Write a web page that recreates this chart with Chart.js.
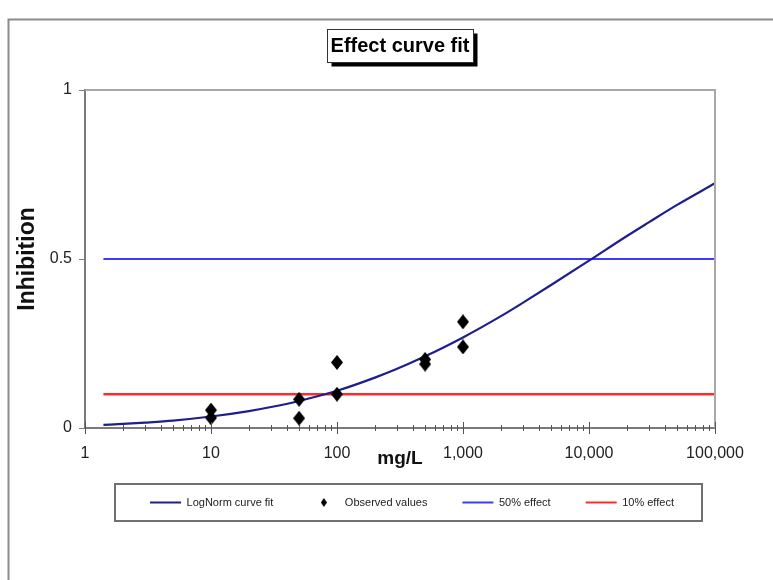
<!DOCTYPE html>
<html><head><meta charset="utf-8">
<script src="https://cdn.jsdelivr.net/npm/chart.js@4.4.1/dist/chart.umd.min.js"></script>
<style>html,body{margin:0;padding:0;background:#fff;} canvas{display:block;}</style>
</head><body>
<canvas id="c" width="773" height="580"></canvas>
<script>
// ---- data ----
const seriesNames = ['LogNorm curve fit', 'Observed values', '50% effect', '10% effect'];
const obsConc = [10, 10, 50, 50, 100, 100, 500, 500, 1000, 1000];
const obsInhibition = [0.053, 0.030, 0.085, 0.029, 0.194, 0.100, 0.203, 0.189, 0.314, 0.240];
const curveConc = [1.4, 2, 3, 5, 10, 20, 30, 50, 100, 200, 300, 500, 1000, 2000, 3000, 5000, 10000, 20000, 30000, 50000, 100000];
const curveInhibition = [0.009, 0.012, 0.016, 0.022, 0.034, 0.050, 0.062, 0.080, 0.110, 0.149, 0.175, 0.212, 0.268, 0.331, 0.371, 0.423, 0.495, 0.568, 0.609, 0.660, 0.724];
const refLineConc = [1.4, 100000];
const effect50 = [0.5, 0.5];
const effect10 = [0.1, 0.1];
const xTickValues = [1, 10, 100, 1000, 10000, 100000];
const yTickValues = [0, 0.5, 1];
const titleText = 'Effect curve fit';
const xTitle = 'mg/L';
const yTitle = 'Inhibition';

const FONT = '"Liberation Sans", Arial, sans-serif';
Chart.defaults.font.family = FONT;
Chart.defaults.color = '#222';

function diamond(w, h) {
  const c = document.createElement('canvas');
  c.width = w; c.height = h;
  const g = c.getContext('2d');
  g.fillStyle = '#000';
  g.beginPath();
  g.moveTo(w / 2, 0); g.lineTo(w, h / 2); g.lineTo(w / 2, h); g.lineTo(0, h / 2);
  g.closePath(); g.fill();
  return c;
}
const pointDiamond = diamond(12, 15);
const legendDiamond = diamond(6, 9);

const zip = (xs, ys) => xs.map((x, i) => ({x: x, y: ys[i]}));

const decor = {
  id: 'decor',
  afterLayout(chart) {
    const lg = chart.legend;
    lg.left += 12; lg.right += 12;
  },
  beforeDraw(chart) {
    const ctx = chart.ctx;
    ctx.save();
    // outer frame
    ctx.strokeStyle = '#8c8c8c'; ctx.lineWidth = 2;
    ctx.beginPath(); ctx.moveTo(8.5, 580); ctx.lineTo(8.5, 19.5); ctx.lineTo(773, 19.5); ctx.stroke();
    // title box with shadow
    const tb = chart.titleBlock;
    ctx.font = 'bold 20px ' + FONT;
    const w = ctx.measureText(titleText).width;
    const cx = (tb.left + tb.right) / 2;
    const cy = tb.top + 34 + 12;
    const x0 = Math.round(cx - w / 2 - 4) + 0.5, x1 = Math.round(cx + w / 2 + 4) + 0.5;
    const y0 = Math.round(cy - 17.5) + 0.5, y1 = Math.round(cy + 15.5) + 0.5;
    ctx.fillStyle = '#000';
    ctx.fillRect(x0 + 4, y0 + 4, x1 - x0, y1 - y0);
    ctx.fillStyle = '#fff';
    ctx.fillRect(x0, y0, x1 - x0, y1 - y0);
    ctx.strokeStyle = '#333'; ctx.lineWidth = 1;
    ctx.strokeRect(x0, y0, x1 - x0, y1 - y0);
    ctx.restore();
  },
  afterDraw(chart) {
    const ctx = chart.ctx;
    const a = chart.chartArea;
    ctx.save();
    // plot border top & right
    ctx.strokeStyle = '#a8a8a8'; ctx.lineWidth = 2;
    ctx.beginPath(); ctx.moveTo(a.left, a.top); ctx.lineTo(a.right, a.top); ctx.lineTo(a.right, a.bottom); ctx.stroke();
    // log tick marks crossing the x axis
    const xs = chart.scales.x;
    ctx.strokeStyle = '#555'; ctx.lineWidth = 1;
    ctx.beginPath();
    for (let e = 0; e <= 5; e++) {
      for (let m = 1; m <= 9; m++) {
        const v = m * Math.pow(10, e);
        if (v > xs.max) break;
        const px = Math.round(xs.getPixelForValue(v)) + 0.5;
        const len = m === 1 ? 6 : 3;
        ctx.moveTo(px, a.bottom - len); ctx.lineTo(px, a.bottom + len);
      }
    }
    ctx.stroke();
    // legend frame
    const lg = chart.legend;
    const pad = lg.options.labels.padding;
    const span = lg.lineWidths[0] - pad;
    const lcx = (lg.left + lg.right) / 2;
    const start = lcx - span / 2;
    const ly = lg.top + pad + 5.5;
    ctx.strokeStyle = '#707070'; ctx.lineWidth = 2;
    ctx.strokeRect(Math.round(start - 35), Math.round(ly - 18.5), Math.round(span + 63), 37);
    ctx.restore();
  }
};

new Chart(document.getElementById('c'), {
  type: 'scatter',
  data: {
    datasets: [
      {label: seriesNames[0], data: zip(curveConc, curveInhibition), showLine: true, borderColor: '#1e1e8c', borderWidth: 2.2, pointRadius: 0, cubicInterpolationMode: 'monotone', order: 1},
      {label: seriesNames[1], data: zip(obsConc, obsInhibition), showLine: false, pointStyle: pointDiamond, backgroundColor: '#000', borderColor: '#000', order: 0},
      {label: seriesNames[2], data: zip(refLineConc, effect50), showLine: true, borderColor: '#3c3cff', borderWidth: 2, pointRadius: 0, order: 2},
      {label: seriesNames[3], data: zip(refLineConc, effect10), showLine: true, borderColor: '#ff2a2a', borderWidth: 2.5, pointRadius: 0, order: 3}
    ]
  },
  options: {
    responsive: false,
    animation: false,
    layout: {padding: {left: 0, right: 58, top: 0, bottom: 62}},
    plugins: {
      tooltip: {enabled: false},
      title: {
        display: true, text: titleText, fullSize: false, color: '#000',
        font: {size: 20, weight: 'bold', lineHeight: 1.2},
        padding: {top: 34, bottom: 32}
      },
      legend: {
        display: true, position: 'bottom', fullSize: false,
        labels: {
          usePointStyle: true, pointStyleWidth: 31, boxHeight: 8, padding: 35,
          color: '#222', font: {size: 11},
          generateLabels(chart) {
            return chart.data.datasets.map((ds, i) => ({
              text: ds.label,
              fillStyle: ds.borderColor,
              strokeStyle: ds.borderColor,
              lineWidth: 2,
              pointStyle: i === 1 ? legendDiamond : 'line',
              hidden: false,
              datasetIndex: i,
              fontColor: '#222'
            }));
          }
        }
      }
    },
    scales: {
      x: {
        type: 'logarithmic', min: 1, max: 100000,
        afterBuildTicks(s) { s.ticks = xTickValues.map(v => ({value: v})); },
        afterFit(s) { s.height = 34; },
        ticks: {
          autoSkip: false, maxRotation: 0, padding: 16, color: '#222',
          font: {size: 16},
          callback: (v) => Number(v).toLocaleString('en-US')
        },
        grid: {display: false, drawTicks: false},
        border: {display: true, color: '#7a7a7a', width: 2},
        title: {display: true, text: xTitle, color: '#111', font: {size: 19, weight: 'bold', lineHeight: 1.2}, padding: {top: 0, bottom: -8.4}}
      },
      y: {
        type: 'linear', min: 0, max: 1,
        afterBuildTicks(s) { s.ticks = yTickValues.map(v => ({value: v})); },
        afterFit(s) { s.width = 85; },
        ticks: {padding: 7, color: '#222', font: {size: 16}, callback: (v) => String(v)},
        grid: {display: true, drawOnChartArea: false, drawTicks: true, tickLength: 6, color: '#808080', lineWidth: 1},
        border: {display: true, color: '#7a7a7a', width: 2},
        title: {display: true, text: yTitle, color: '#111', font: {size: 23, weight: 'bold', lineHeight: 1.2}, padding: {top: 14, bottom: 0}}
      }
    }
  },
  plugins: [decor]
});
</script>
</body></html>
